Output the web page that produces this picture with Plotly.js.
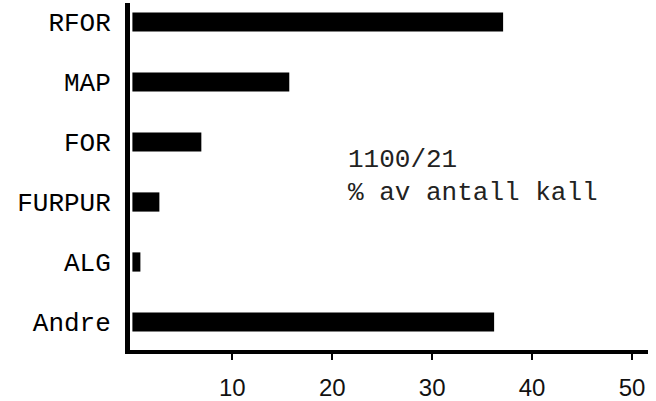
<!DOCTYPE html>
<html>
<head>
<meta charset="utf-8">
<script src="https://cdn.plot.ly/plotly-3.0.1.min.js"></script>
<style>html,body{margin:0;padding:0;background:#fff;}#chart{width:656px;height:401px;}</style>
</head>
<body>
<div id="chart"></div>
<script>
var categories = ["RFOR", "MAP", "FOR", "FURPUR", "ALG", "Andre"];
var values = [37.1, 15.7, 6.9, 2.7, 0.8, 36.2];
var xTicks = [10, 20, 30, 40, 50];
var noteLines = ["1100/21", "% av antall kall"];

var mono = "Liberation Mono, Courier New, monospace";

var trace = {
  type: "bar",
  orientation: "h",
  y: categories,
  x: values,
  width: 0.32,
  marker: {color: "#000000", line: {width: 0}},
  hoverinfo: "none"
};

var layout = {
  width: 656,
  height: 401,
  margin: {l: 130, r: 8, t: 3, b: 51, pad: 0},
  paper_bgcolor: "#ffffff",
  plot_bgcolor: "#ffffff",
  showlegend: false,
  bargap: 0.68,
  xaxis: {
    range: [-0.24, 51.6],
    tickvals: xTicks,
    ticktext: xTicks.map(String),
    showgrid: false,
    zeroline: false,
    showline: true,
    linecolor: "#000000",
    linewidth: 4,
    ticks: "outside",
    ticklen: 6,
    tickwidth: 2,
    tickcolor: "#000000",
    ticklabelstandoff: 7,
    tickfont: {family: "Liberation Sans, Arial, sans-serif", size: 24, color: "#111111"},
    fixedrange: true
  },
  yaxis: {
    type: "category",
    categoryorder: "array",
    categoryarray: categories,
    range: [5.467, -0.317],
    showgrid: false,
    zeroline: false,
    showline: true,
    linecolor: "#000000",
    linewidth: 5,
    ticks: "outside",
    ticklen: 9,
    tickcolor: "rgba(0,0,0,0)",
    tickfont: {family: mono, size: 26, color: "#000000"},
    fixedrange: true
  },
  annotations: [
    {x: 21.4, y: 2.3, xref: "x", yref: "y", text: noteLines[0], showarrow: false,
     xanchor: "left", yanchor: "middle", font: {family: mono, size: 26, color: "#222222"}},
    {x: 21.4, y: 2.85, xref: "x", yref: "y", text: noteLines[1], showarrow: false,
     xanchor: "left", yanchor: "middle", font: {family: mono, size: 26, color: "#222222"}}
  ]
};

Plotly.newPlot("chart", [trace], layout, {displayModeBar: false, staticPlot: true});
</script>
</body>
</html>
